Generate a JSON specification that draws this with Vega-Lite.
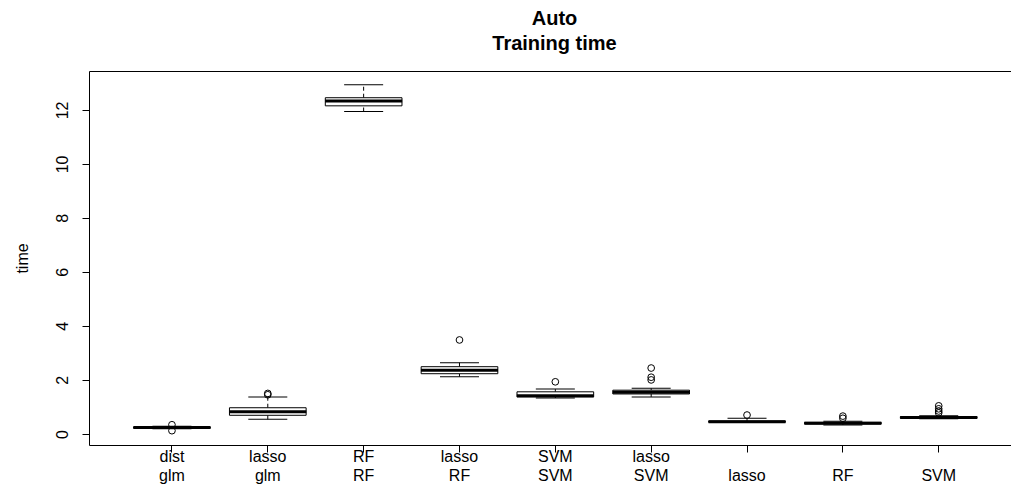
{
  "$schema": "https://vega.github.io/schema/vega-lite/v6.json",
  "autosize": "none",
  "width": 923,
  "height": 374,
  "padding": {"top": 71, "left": 89, "right": 0, "bottom": 44},
  "background": "white",
  "title": {
    "text": ["Auto", "Training time"],
    "font": "Liberation Sans",
    "fontSize": 20,
    "fontWeight": "bold",
    "color": "black",
    "lineHeight": 25,
    "anchor": "middle",
    "baseline": "alphabetic",
    "offset": 1,
    "dx": 4
  },
  "datasets": {
    "boxes": [
      {"model": "dist\nglm", "lo": 0.19, "q1": 0.21, "med": 0.235, "q3": 0.26, "hi": 0.28},
      {"model": "lasso\nglm", "lo": 0.54, "q1": 0.69, "med": 0.82, "q3": 0.97, "hi": 1.37},
      {"model": "RF\nRF", "lo": 11.94, "q1": 12.15, "med": 12.33, "q3": 12.45, "hi": 12.93},
      {"model": "lasso\nRF", "lo": 2.12, "q1": 2.23, "med": 2.36, "q3": 2.49, "hi": 2.64},
      {"model": "SVM\nSVM", "lo": 1.33, "q1": 1.37, "med": 1.41, "q3": 1.56, "hi": 1.66},
      {"model": "lasso\nSVM", "lo": 1.37, "q1": 1.48, "med": 1.54, "q3": 1.62, "hi": 1.69},
      {"model": "lasso", "lo": 0.42, "q1": 0.43, "med": 0.45, "q3": 0.48, "hi": 0.58},
      {"model": "RF", "lo": 0.33, "q1": 0.37, "med": 0.4, "q3": 0.43, "hi": 0.47},
      {"model": "SVM", "lo": 0.56, "q1": 0.58, "med": 0.61, "q3": 0.64, "hi": 0.67}
    ],
    "outliers": [
      {"model": "dist\nglm", "time": 0.34},
      {"model": "dist\nglm", "time": 0.12},
      {"model": "lasso\nglm", "time": 1.45},
      {"model": "lasso\nglm", "time": 1.5},
      {"model": "lasso\nRF", "time": 3.48},
      {"model": "SVM\nSVM", "time": 1.93},
      {"model": "lasso\nSVM", "time": 2.0},
      {"model": "lasso\nSVM", "time": 2.1},
      {"model": "lasso\nSVM", "time": 2.44},
      {"model": "lasso", "time": 0.7},
      {"model": "RF", "time": 0.58},
      {"model": "RF", "time": 0.66},
      {"model": "SVM", "time": 0.78},
      {"model": "SVM", "time": 0.85},
      {"model": "SVM", "time": 0.93},
      {"model": "SVM", "time": 1.04}
    ]
  },
  "encoding": {
    "x": {
      "field": "model",
      "type": "nominal",
      "title": null,
      "scale": {
        "domain": ["dist\nglm", "lasso\nglm", "RF\nRF", "lasso\nRF", "SVM\nSVM", "lasso\nSVM", "lasso", "RF", "SVM"],
        "paddingInner": 0,
        "paddingOuter": 0.315,
        "align": 0.58
      },
      "axis": {
        "labelAngle": 0,
        "labelExpr": "indexof(datum.label, '\\n') >= 0 ? split(datum.label, '\\n') : ['', datum.label]",
        "labelBaseline": "alphabetic",
        "labelLineHeight": 19,
        "labelPadding": 9,
        "tickSize": 7
      }
    }
  },
  "layer": [
    {
      "data": {"name": "boxes"},
      "mark": {"type": "rule", "color": "black", "strokeWidth": 1, "strokeDash": [4, 3]},
      "encoding": {
        "y": {
          "field": "lo",
          "type": "quantitative",
          "title": "time",
          "scale": {"domain": [-0.41, 13.44], "nice": false, "zero": false},
          "axis": {
            "values": [0, 2, 4, 6, 8, 10, 12],
            "labelAngle": 270,
            "labelAlign": "center",
            "labelBaseline": "alphabetic",
            "labelPadding": 15,
            "tickSize": 7,
            "titleAngle": 270,
            "titleX": -62,
            "titleY": 187,
            "titleAlign": "center",
            "titleBaseline": "alphabetic"
          }
        },
        "y2": {"field": "q1"}
      }
    },
    {
      "data": {"name": "boxes"},
      "mark": {"type": "rule", "color": "black", "strokeWidth": 1, "strokeDash": [4, 3]},
      "encoding": {
        "y": {"field": "q3", "type": "quantitative"},
        "y2": {"field": "hi"}
      }
    },
    {
      "data": {"name": "boxes"},
      "mark": {"type": "tick", "color": "black", "opacity": 1, "size": 39, "thickness": 1},
      "encoding": {"y": {"field": "lo", "type": "quantitative"}}
    },
    {
      "data": {"name": "boxes"},
      "mark": {"type": "tick", "color": "black", "opacity": 1, "size": 39, "thickness": 1},
      "encoding": {"y": {"field": "hi", "type": "quantitative"}}
    },
    {
      "data": {"name": "boxes"},
      "mark": {"type": "bar", "fill": "white", "stroke": "black", "strokeWidth": 1, "width": {"band": 0.8}},
      "encoding": {
        "y": {"field": "q1", "type": "quantitative"},
        "y2": {"field": "q3"}
      }
    },
    {
      "data": {"name": "boxes"},
      "mark": {"type": "tick", "color": "black", "opacity": 1, "size": 77, "thickness": 3},
      "encoding": {"y": {"field": "med", "type": "quantitative"}}
    },
    {
      "data": {"name": "outliers"},
      "mark": {"type": "point", "shape": "circle", "filled": false, "stroke": "black", "strokeWidth": 1, "size": 45, "opacity": 1},
      "encoding": {"y": {"field": "time", "type": "quantitative"}}
    }
  ],
  "config": {
    "view": {"stroke": "black", "strokeWidth": 1},
    "axis": {
      "grid": false,
      "domain": false,
      "tickColor": "black",
      "tickWidth": 1,
      "labelFont": "Liberation Sans",
      "labelFontSize": 16,
      "labelColor": "black",
      "titleFont": "Liberation Sans",
      "titleFontSize": 16,
      "titleFontWeight": "normal",
      "titleColor": "black"
    }
  }
}
